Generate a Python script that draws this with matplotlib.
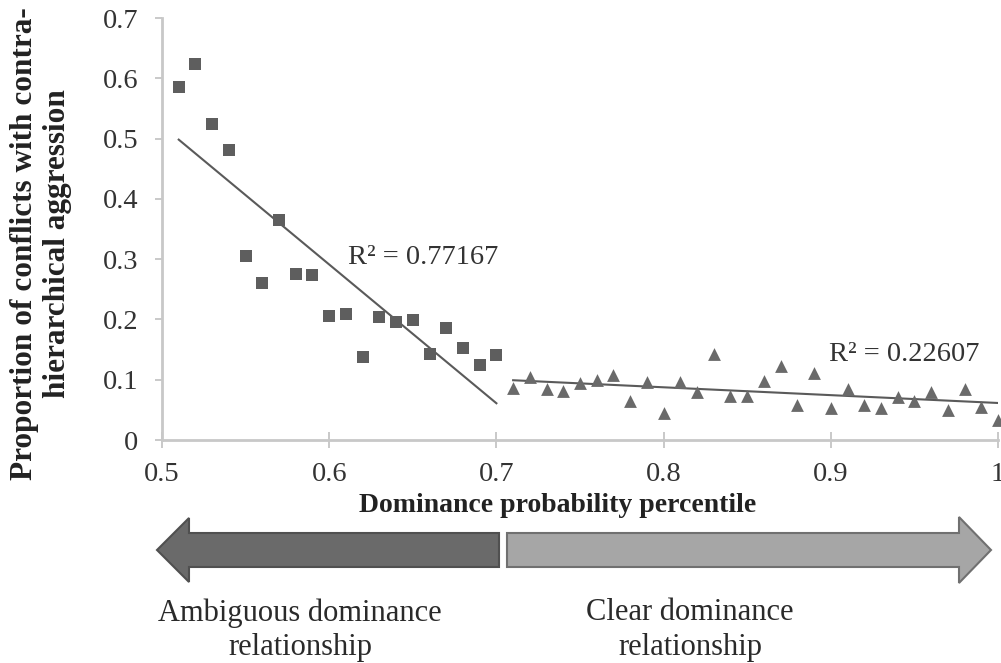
import numpy as np
import matplotlib
matplotlib.use("Agg")
import matplotlib.pyplot as plt
from matplotlib.patches import Polygon

# ---- data ----
amb_x = [0.51, 0.52, 0.53, 0.54, 0.55, 0.56, 0.57, 0.58, 0.59, 0.60,
         0.61, 0.62, 0.63, 0.64, 0.65, 0.66, 0.67, 0.68, 0.69, 0.70]
amb_y = [0.585, 0.624, 0.524, 0.481, 0.305, 0.260, 0.365, 0.275, 0.274, 0.206,
         0.209, 0.138, 0.204, 0.196, 0.199, 0.143, 0.186, 0.153, 0.124, 0.141]
clr_x = [0.71, 0.72, 0.73, 0.74, 0.75, 0.76, 0.77, 0.78, 0.79, 0.80,
         0.81, 0.82, 0.83, 0.84, 0.85, 0.86, 0.87, 0.88, 0.89, 0.90,
         0.91, 0.92, 0.93, 0.94, 0.95, 0.96, 0.97, 0.98, 0.99, 1.00]
clr_y = [0.086, 0.104, 0.085, 0.081, 0.095, 0.100, 0.108, 0.065, 0.096, 0.045,
         0.097, 0.080, 0.143, 0.073, 0.073, 0.098, 0.122, 0.058, 0.111, 0.053,
         0.085, 0.058, 0.053, 0.072, 0.064, 0.080, 0.050, 0.085, 0.055, 0.033]
r2_labels = ["R\u00b2 = 0.77167", "R\u00b2 = 0.22607"]
xticks = [0.5, 0.6, 0.7, 0.8, 0.9, 1.0]
xticklabels = ["0.5", "0.6", "0.7", "0.8", "0.9", "1"]
yticks = [0, 0.1, 0.2, 0.3, 0.4, 0.5, 0.6, 0.7]
yticklabels = ["0", "0.1", "0.2", "0.3", "0.4", "0.5", "0.6", "0.7"]
ylabel = "Proportion of conflicts with contra-\nhierarchical aggression"
xlabel = "Dominance probability percentile"
region_labels = ["Ambiguous dominance\nrelationship", "Clear dominance\nrelationship"]

plt.rcParams['font.family'] = ['Liberation Serif', 'DejaVu Serif']

W, H = 1001, 663
fig = plt.figure(figsize=(W / 100, H / 100), dpi=100)
ax = fig.add_axes([162 / W, 1 - 440 / H, (998 - 162) / W, (440 - 18) / H])

ax.scatter(amb_x, amb_y, marker='s', s=80, color='#5e5e5e', zorder=3, clip_on=False, linewidths=0)
ax.scatter(clr_x, clr_y, marker='^', s=85, color='#6a6a6a', zorder=3, clip_on=False, linewidths=0)

for xs, ys in [(amb_x, amb_y), (clr_x, clr_y)]:
    m, b = np.polyfit(xs, ys, 1)
    xx = np.array([min(xs), max(xs)])
    ax.plot(xx, m * xx + b, color='#5a5a5a', lw=1.5, zorder=2)

ax.text(0.611, 0.303, r2_labels[0], fontsize=20.5, color='#333333', va='center', ha='left')
ax.text(0.899, 0.142, r2_labels[1], fontsize=20.5, color='#333333', va='center', ha='left')

ax.set_xlim(0.5, 1.0)
ax.set_ylim(0, 0.7)
ax.set_xticks(xticks)
ax.set_xticklabels(xticklabels)
ax.set_yticks(yticks)
ax.set_yticklabels(yticklabels)
for s in ['top', 'right']:
    ax.spines[s].set_visible(False)
for s in ['left', 'bottom']:
    ax.spines[s].set_color('#c8c8c8')
    ax.spines[s].set_linewidth(2)
ax.tick_params(axis='y', direction='out', length=5, width=1.2, color='#c0c0c0',
               labelsize=20.5, labelcolor='#333333', pad=12)
ax.tick_params(axis='x', direction='inout', length=11, width=1.2, color='#c0c0c0',
               labelsize=20.5, labelcolor='#333333', pad=10)

# overlay for annotations in pixel coordinates
ov = fig.add_axes([0, 0, 1, 1], zorder=-1)
ov.set_xlim(0, W)
ov.set_ylim(H, 0)
ov.axis('off')

ov.text(41, 244, ylabel, rotation=90, fontsize=22.5, fontweight='bold', color='#222222',
        ha='center', va='center', multialignment='center', linespacing=1.15)
ov.text(558, 505, xlabel, fontsize=20, fontweight='bold', color='#222222',
        ha='center', va='center')

left_arrow = [(157, 550), (189, 518), (189, 533), (499, 533), (499, 567), (189, 567), (189, 582)]
right_arrow = [(507, 533), (959, 533), (959, 517), (991, 550), (959, 583), (959, 567), (507, 567)]
ov.add_patch(Polygon(left_arrow, closed=True, facecolor='#6a6a6a', edgecolor='#505050', lw=1.5))
ov.add_patch(Polygon(right_arrow, closed=True, facecolor='#a6a6a6', edgecolor='#707070', lw=1.5))

ov.text(300, 630, region_labels[0], fontsize=22, color='#2a2a2a', ha='center', va='center',
        linespacing=1.25)
ov.text(690, 630, region_labels[1], fontsize=22, color='#2a2a2a', ha='center', va='center',
        linespacing=1.25)

fig.savefig('out.png', dpi=100)
